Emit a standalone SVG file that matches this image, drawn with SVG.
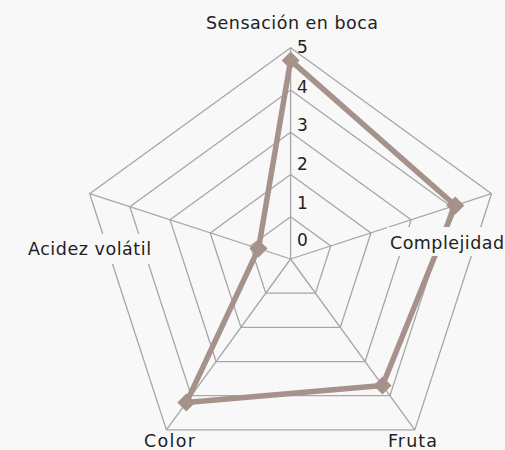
<svg xmlns="http://www.w3.org/2000/svg" width="505" height="450" viewBox="0 0 505 450">
<style>
.grid{fill:none;stroke:#a6a6a6;stroke-width:1.3}
.lbl{font-family:"DejaVu Sans","Liberation Sans",sans-serif;font-size:17.5px;fill:#222}
.tick{font-family:"DejaVu Sans","Liberation Sans",sans-serif;font-size:17px;fill:#222}
.series{fill:none;stroke:#a5928a;stroke-width:5.5;stroke-linejoin:round}
.mk{fill:#a5928a}
.bg{fill:#f8f8f8}
</style>
<defs>
<path id="dia" d="M0,-9 L9,0 L0,9 L-9,0 Z"/>
</defs>
<rect width="505" height="450" fill="#f8f8f8"/>
<g id="grid">
<polygon class="grid" points="290.6,216.75 330.78,245.94 315.43,293.18 265.77,293.18 250.42,245.94"/>
<polygon class="grid" points="290.6,174.5 370.97,232.89 340.27,327.36 240.93,327.36 210.23,232.89"/>
<polygon class="grid" points="290.6,132.25 411.15,219.83 365.1,361.54 216.1,361.54 170.05,219.83"/>
<polygon class="grid" points="290.6,90 451.34,206.78 389.94,395.72 191.26,395.72 129.86,206.78"/>
<polygon class="grid" points="290.6,47.75 491.52,193.72 414.77,429.9 166.43,429.9 89.68,193.72"/>
<g class="grid">
<line x1="290.6" y1="259" x2="290.6" y2="47.75"/>
<line x1="290.6" y1="259" x2="491.52" y2="193.72"/>
<line x1="290.6" y1="259" x2="414.77" y2="429.9"/>
<line x1="290.6" y1="259" x2="166.43" y2="429.9"/>
<line x1="290.6" y1="259" x2="89.68" y2="193.72"/>
</g>
</g>
<g id="ticks" class="tick">
<text x="297" y="53">5</text>
<text x="297" y="93">4</text>
<text x="297" y="131">3</text>
<text x="297" y="170">2</text>
<text x="297" y="209">1</text>
<text x="297" y="246">0</text>
</g>
<g id="series">
<polygon class="series" points="290.6,60.4 455.3,205.5 382.5,385.5 186.3,402.6 258.5,248.6"/>
<use href="#dia" class="mk" x="290.6" y="60.4"/>
<use href="#dia" class="mk" x="455.3" y="205.5"/>
<use href="#dia" class="mk" x="382.5" y="385.5"/>
<use href="#dia" class="mk" x="186.3" y="402.6"/>
<use href="#dia" class="mk" x="258.5" y="248.6"/>
</g>
<g id="labels" class="lbl">
<rect class="bg" x="387" y="227" width="118" height="29"/>
<rect class="bg" x="24" y="234" width="131" height="30"/>
<rect class="bg" x="140" y="432" width="59" height="18"/>
<rect class="bg" x="384" y="432" width="57" height="18"/>
<text x="206" y="29" textLength="172">Sensación en boca</text>
<text x="390" y="249" textLength="114">Complejidad</text>
<text x="28" y="255" textLength="123">Acidez volátil</text>
<text x="144" y="447" textLength="51">Color</text>
<text x="388" y="447" textLength="49">Fruta</text>
</g>
</svg>
